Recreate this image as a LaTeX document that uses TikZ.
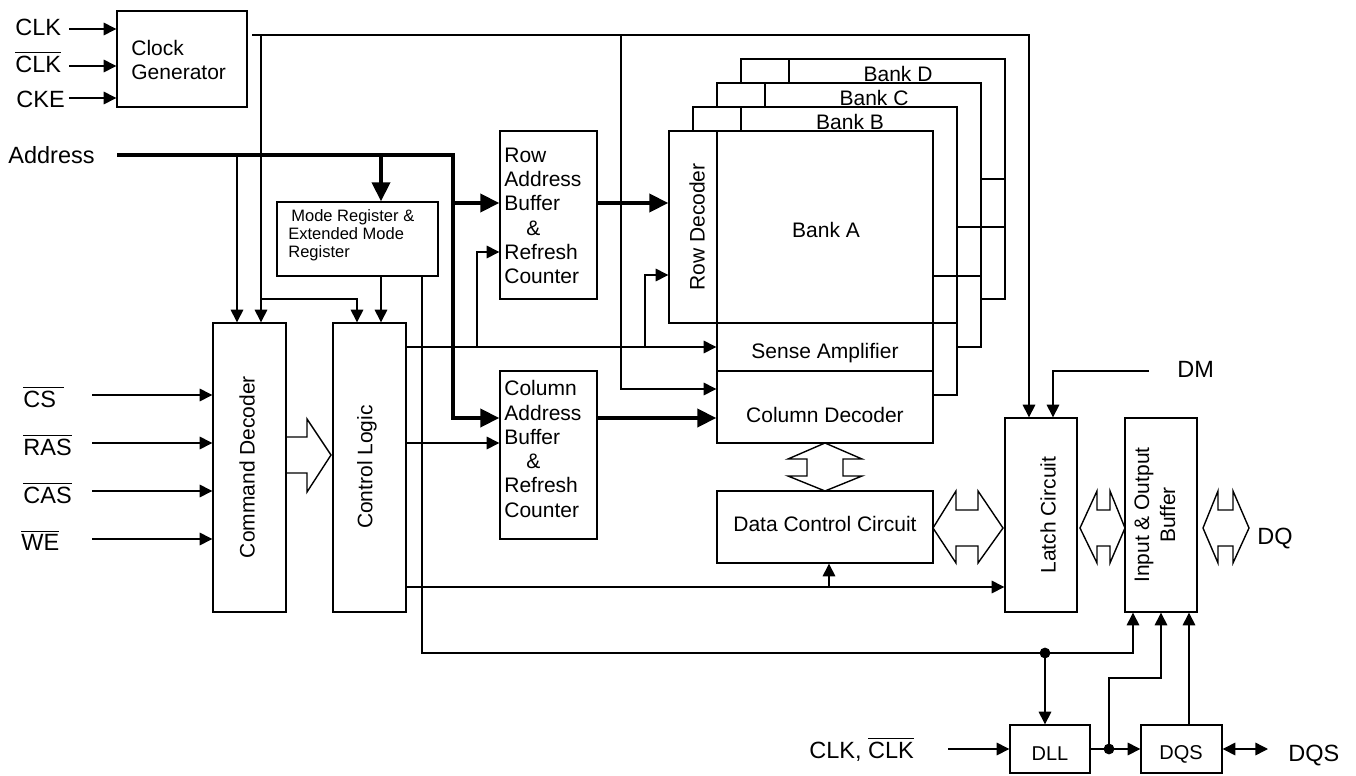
\documentclass[tikz,border=0pt]{standalone}
\usepackage{fontspec}
\setmainfont{Liberation Sans}
\usetikzlibrary{arrows.meta,fit}
\newcommand{\ovl}[1]{\ensuremath{\overline{\mbox{#1}}}}
\tikzset{
  ln/.style={line width=0.7pt},
  arr/.style={ln, -{Triangle[length=6.3pt,width=6.3pt]}},
  darr/.style={ln, {Triangle[length=6.3pt,width=6.3pt]}-{Triangle[length=6.3pt,width=6.3pt]}},
  tarr/.style={line width=2pt, -{Triangle[length=9.5pt,width=9pt]}},
  box/.style={draw, line width=0.7pt, inner sep=0pt},
  txt/.style={inner sep=0pt, font=\fontsize{10.5}{12.15}\selectfont},
  lab/.style={inner sep=0pt, anchor=base west, font=\fontsize{11.75}{14}\selectfont},
  dot/.style={circle, fill, inner sep=0pt, minimum size=5.4pt},
}
\begin{document}
\begin{tikzpicture}[x=0.5pt,y=-0.5pt]
\useasboundingbox (0,0) rectangle (1356,776);

% ---------- boxes ----------
\node[box, fit={(117,11) (247,107)}] (cg) {};
\node[box, fit={(277,202) (438,276)}] (mr) {};
\node[box, fit={(213,323) (286,612)}] (cd) {};
\node[box, fit={(333,323) (406,612)}] (cl) {};
\node[box, fit={(500,131) (597,299)}] (rab) {};
\node[box, fit={(500,371) (597,539)}] (cab) {};
\node[box, fit={(669,131) (717,323)}] (rd) {};
\node[box, fit={(717,131) (933,323)}] (ba) {};
\node[box, fit={(717,323) (933,371)}] (sa) {};
\node[box, fit={(717,371) (933,443)}] (cdec) {};
\node[box, fit={(717,491) (933,563)}] (dcc) {};
\node[box, fit={(1005,418) (1077,612)}] (lat) {};
\node[box, fit={(1125,418) (1197,612)}] (iob) {};
\node[box, fit={(1010,725) (1090,773)}] (dll) {};
\node[box, fit={(1141,725) (1222,773)}] (dqs) {};

% ---------- banks B, C, D ----------
\draw[ln] (693,131) -- (693,107) -- (957,107) -- (957,395) -- (933,395);
\draw[ln] (741,107) -- (741,131);
\draw[ln] (933,276) -- (981,276);
\draw[ln] (933,323) -- (957,323);
\draw[ln] (717,107) -- (717,83) -- (981,83) -- (981,347) -- (957,347);
\draw[ln] (765,83) -- (765,107);
\draw[ln] (957,227) -- (1005,227);
\draw[ln] (741,83) -- (741,59) -- (1005,59) -- (1005,299) -- (981,299);
\draw[ln] (789,59) -- (789,83);
\draw[ln] (981,179) -- (1005,179);

% ---------- box texts ----------
\node[txt, align=left, anchor=west] (cgt) at (131,60) {Clock\\Generator};
\node[inner sep=0pt, align=left, anchor=west, font=\fontsize{8.25}{9}\selectfont] (mrt) at (288,235) {\hspace*{1.5pt}Mode Register \&\\Extended Mode\\Register};
\node[txt, rotate=90] (cdt) at (247,467) {Command Decoder};
\node[txt, rotate=90] (clt) at (367,467) {Control Logic};
\node[txt, align=left, anchor=west] (rabt) at (504,216) {Row\\Address\\Buffer\\\hspace*{11pt}\&\\Refresh\\Counter};
\node[txt, align=left, anchor=west] (cabt) at (504,449) {Column\\Address\\Buffer\\\hspace*{11pt}\&\\Refresh\\Counter};
\node[txt, rotate=90] (rdt) at (697,227) {Row Decoder};
\node[txt] (bat) at (826,230) {Bank A};
\node[txt] (bbt) at (850,122) {Bank B};
\node[txt] (bct) at (874,98) {Bank C};
\node[txt] (bdt) at (898,74) {Bank D};
\node[txt] (sat) at (825,353) {Sense Amplifier};
\node[txt] (cdect) at (825,415) {Column Decoder};
\node[txt] (dcct) at (825,524) {Data Control Circuit};
\node[txt, rotate=90] (latt) at (1048,515) {Latch Circuit};
\node[inner sep=0pt, rotate=90, align=center, font=\fontsize{10.5}{13}\selectfont] (iobt) at (1155,515) {Input \& Output\\Buffer};
\node[inner sep=0pt, font=\fontsize{10}{12}\selectfont] (dllt) at (1050,754) {DLL};
\node[inner sep=0pt, font=\fontsize{10}{12}\selectfont] (dqst) at (1181,754) {DQS};

% ---------- outside labels ----------
\node[lab] (lclk) at (15,35) {CLK};
\node[lab] (lclkb) at (15,72) {\ovl{CLK}};
\node[lab] (lcke) at (16,107) {CKE};
\node[lab] (laddr) at (8,163) {Address};
\node[lab] (lcs) at (23,407) {\ovl{CS\hspace*{4pt}}};
\node[lab] (lras) at (23,455) {\ovl{RAS}};
\node[lab] (lcas) at (23,503) {\ovl{CAS}};
\node[lab] (lwe) at (21,550) {\ovl{WE}};
\node[lab] (ldm) at (1177,377) {DM};
\node[lab] (ldq) at (1257,544) {DQ};
\node[lab] (ldqs) at (1288,761) {DQS};
\node[lab] (lclk2) at (809,758) {CLK, \ovl{CLK}};

% ---------- coordinates ----------
\coordinate (i1) at (69,29);
\coordinate (i2) at (69,66);
\coordinate (i3) at (69,98);
\coordinate (cs0) at (92,395);
\coordinate (ras0) at (92,443);
\coordinate (cas0) at (92,491);
\coordinate (we0) at (92,539);
\coordinate (ck0) at (252,35);
\coordinate (ckx) at (1029,35);
\coordinate (ck1) at (261,35);
\coordinate (ck2) at (261,299);
\coordinate (ck3) at (357,299);
\coordinate (ck4) at (621,35);
\coordinate (ck5) at (621,389);
\coordinate (ad0) at (117,155);
\coordinate (ad1) at (453,155);
\coordinate (ad2) at (453,418);
\coordinate (ad3) at (453,203);
\coordinate (ad4) at (237,155);
\coordinate (ad5) at (381,155);
\coordinate (b0) at (422,653);
\coordinate (b1) at (1133,653);
\coordinate (jd) at (1045,653);
\coordinate (s0) at (406,347);
\coordinate (s1) at (477,347);
\coordinate (s1b) at (477,252);
\coordinate (s2) at (645,347);
\coordinate (s2b) at (645,275);
\coordinate (c0) at (406,443);
\coordinate (e0) at (406,587);
\coordinate (e1) at (829,587);
\coordinate (r0) at (597,203);
\coordinate (q0) at (597,418);
\coordinate (dm0) at (1149,371);
\coordinate (dm1) at (1053,371);
\coordinate (k0) at (948,749);
\coordinate (jd2) at (1109,749);
\coordinate (k2) at (1109,678);
\coordinate (k3) at (1161,678);
\coordinate (k4) at (1189,0);
\coordinate (k5) at (1268,749);

% ---------- connectors ----------
\draw[arr] (i1) -- (i1 -| cg.west);
\draw[arr] (i2) -- (i2 -| cg.west);
\draw[arr] (i3) -- (i3 -| cg.west);
\draw[arr] (cs0) -- (cs0 -| cd.west);
\draw[arr] (ras0) -- (ras0 -| cd.west);
\draw[arr] (cas0) -- (cas0 -| cd.west);
\draw[arr] (we0) -- (we0 -| cd.west);

\draw[arr] (ck0) -- (ckx) -- (ckx |- lat.north);
\draw[arr] (ck1) -- (ck1 |- cd.north);
\draw[arr] (ck2) -- (ck3) -- (ck3 |- cl.north);
\draw[arr] (ck4) -- (ck5) -- (ck5 -| cdec.west);

\draw[tarr] (ad0) -- (ad1) -- (ad2) -- (ad2 -| cab.west);
\draw[tarr] (ad3) -- (ad3 -| rab.west);
\draw[arr] (ad4) -- (ad4 |- cd.north);
\draw[tarr] (ad5) -- (ad5 |- mr.north);
\draw[arr] (mr.south -| ad5) -- (ad5 |- cl.north);

\draw[arr] (mr.south -| b0) -- (b0) -- (b1) -- (b1 |- iob.south);
\draw[arr] (jd) -- (jd |- dll.north);
\node[dot] (jdot) at (jd) {};

\draw[arr] (s0) -- (s0 -| sa.west);
\draw[arr] (s1) -- (s1b) -- (s1b -| rab.west);
\draw[arr] (s2) -- (s2b) -- (s2b -| rd.west);
\draw[arr] (c0) -- (c0 -| cab.west);
\draw[arr] (e0) -- (e0 -| lat.west);
\draw[arr] (e1) -- (e1 |- dcc.south);

\draw[tarr] (r0) -- (r0 -| rd.west);
\draw[tarr] (q0) -- (q0 -| cdec.west);

\draw[arr] (dm0) -- (dm1) -- (dm1 |- lat.north);

\draw[arr] (k0) -- (k0 -| dll.west);
\draw[arr] (dll.east) -- (dqs.west);
\draw[arr] (jd2) -- (k2) -- (k3) -- (k3 |- iob.south);
\node[dot] (jdot2) at (jd2) {};
\draw[arr] (dqs.north -| k4) -- (k4 |- iob.south);
\draw[darr] (dqs.east) -- (k5);

% ---------- block arrows ----------
\draw[ln] (286,437) -- (307,437) -- (307,419) -- (331,455) -- (307,492) -- (307,473) -- (286,473);
\draw[ln] (825,443) -- (862,459) -- (843,459) -- (843,476) -- (862,476) -- (825,491) -- (788,476) -- (807,476) -- (807,459) -- (788,459) -- cycle;
\draw[ln] (933,528) -- (956,491) -- (956,510) -- (978,510) -- (978,491) -- (1003,528) -- (978,563) -- (978,546) -- (956,546) -- (956,563) -- cycle;
\draw[ln] (1080,528) -- (1097,491) -- (1097,510) -- (1110,510) -- (1110,491) -- (1125,528) -- (1110,563) -- (1110,546) -- (1097,546) -- (1097,563) -- cycle;
\draw[ln] (1203,528) -- (1218,491) -- (1218,510) -- (1233,510) -- (1233,491) -- (1249,528) -- (1233,563) -- (1233,546) -- (1218,546) -- (1218,563) -- cycle;
\end{tikzpicture}
\end{document}
